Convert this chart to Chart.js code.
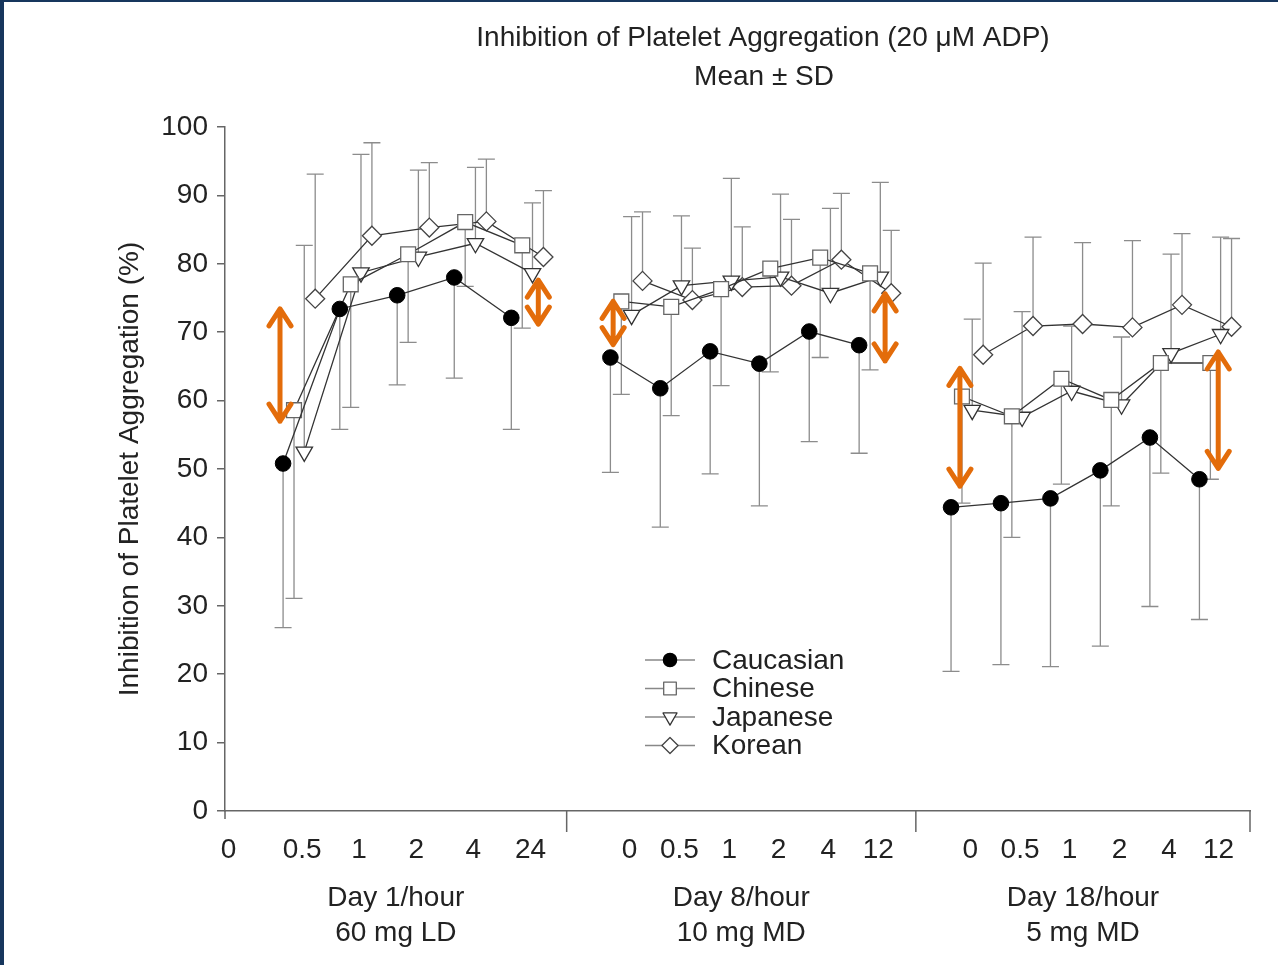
<!DOCTYPE html>
<html>
<head>
<meta charset="utf-8">
<script src="https://cdn.jsdelivr.net/npm/chart.js@4.4.1/dist/chart.umd.min.js"></script>
<style>
  body { margin: 0; background: #fff; }
  #wrap { position: relative; width: 1278px; height: 965px; }
  #frame { position: absolute; left: 0; top: 0; width: 1278px; height: 965px; box-sizing: border-box;
           border-top: 2px solid #17365d; border-left: 4px solid #17365d; pointer-events: none; }
</style>
</head>
<body>
<div id="wrap"><canvas id="myChart" width="1278" height="965"></canvas><div id="frame"></div></div>
<script>
// time slots on the x axis (axis runs 0..30, three days side by side)
const day1Hours = ['0', '0.5', '1', '2', '4', '24'];
const day8Hours = ['0', '0.5', '1', '2', '4', '12'];
const day18Hours = ['0', '0.5', '1', '2', '4', '12'];
const day1Slots = [0.10, 2.26, 3.92, 5.60, 7.27, 8.94];
const day8Slots = [11.84, 13.30, 14.76, 16.20, 17.66, 19.12];
const day18Slots = [21.81, 23.27, 24.72, 26.18, 27.63, 29.08];
const panelEdges = [0, 10, 20.22, 30];
const panelTitles = [['Day 1/hour', '60 mg LD'], ['Day 8/hour', '10 mg MD'], ['Day 18/hour', '5 mg MD']];

// mean IPA (%) : day 1 (0.5,1,2,4,24 h), day 8 (0..12 h), day 18 (0..12 h)
const caucasianMean = [50.8, 73.4, 75.4, 78.0, 72.1,  66.3, 61.8, 67.2, 65.4, 70.1, 68.1,  44.4, 45.0, 45.7, 49.8, 54.6, 48.5];
const chineseMean   = [58.6, 77.0, 81.4, 86.1, 82.7,  74.5, 73.7, 76.3, 79.3, 80.9, 78.6,  60.6, 57.7, 63.2, 60.1, 65.5, 65.5];
const japaneseMean  = [52.5, 78.7, 81.0, 83.0, 78.6,  72.5, 76.8, 77.5, 78.1, 75.7, 78.1,  58.6, 57.6, 61.4, 59.4, 66.9, 69.7];
const koreanMean    = [74.9, 84.1, 85.3, 86.2, 81.0,  77.5, 74.7, 76.6, 76.8, 80.6, 75.7,  66.7, 70.9, 71.2, 70.7, 74.0, 70.8];

// SD (only one side drawn)
const caucasianSD = [24.0, 17.6, 13.1, 14.7, 16.3,  16.8, 20.3, 17.9, 20.8, 16.1, 15.8,  24.0, 23.6, 24.6, 25.7, 24.7, 20.5];
const chineseSD   = [27.5, 18.0, 12.9, 9.4, 12.1,   13.6, 15.9, 14.1, 15.1, 14.6, 14.1,  15.6, 17.7, 15.4, 15.5, 16.1, 17.0];
const japaneseSD  = [30.2, 17.3, 12.7, 11.1, 10.3,  14.4, 10.2, 15.0, 12.1, 12.4, 13.8,  13.3, 15.4, 9.5, 9.9, 14.5, 14.2];
const koreanSD    = [18.2, 13.6, 9.5, 9.1, 9.7,     10.1, 7.6, 8.8, 9.7, 9.7, 9.2,      13.4, 13.0, 11.9, 12.7, 10.4, 12.9];

// orange difference arrows: slot position, top value, bottom value
const arrowX = [1.61, 9.17, 11.36, 19.32, 21.51, 29.07];
const arrowTop = [73.7, 77.9, 74.8, 75.9, 65.0, 67.4];
const arrowBottom = [56.7, 70.9, 67.9, 65.5, 47.2, 49.8];

const allSlots = day1Slots.concat(day8Slots, day18Slots);
const allLabels = day1Hours.concat(day8Hours, day18Hours);
const FONT = "'Liberation Sans', Arial, sans-serif";

function buildPoints(means, sds, dodge) {
  const pts = [];
  const panels = [day1Slots.slice(1), day8Slots, day18Slots];
  let k = 0;
  panels.forEach((slots, p) => {
    if (p > 0) pts.push({x: panelEdges[p], y: null});
    slots.forEach(x => {
      pts.push({x: x + dodge, y: means[k], sd: sds[k]});
      k++;
    });
  });
  return pts;
}

const errorBars = {
  id: 'errorBars',
  beforeDatasetsDraw(chart) {
    const ctx = chart.ctx, ys = chart.scales.y;
    ctx.save();
    ctx.strokeStyle = '#8c8c8c';
    ctx.lineWidth = 1.3;
    chart.data.datasets.forEach((ds, di) => {
      const meta = chart.getDatasetMeta(di);
      ds.data.forEach((d, i) => {
        if (d.y === null) return;
        const el = meta.data[i];
        const yEnd = ys.getPixelForValue(d.y + ds.sdDir * d.sd);
        ctx.beginPath();
        ctx.moveTo(el.x, el.y);
        ctx.lineTo(el.x, yEnd);
        ctx.moveTo(el.x - 8.5, yEnd);
        ctx.lineTo(el.x + 8.5, yEnd);
        ctx.stroke();
      });
    });
    ctx.restore();
  }
};

const extras = {
  id: 'extras',
  afterDraw(chart) {
    const ctx = chart.ctx, xs = chart.scales.x, ys = chart.scales.y;
    const area = chart.chartArea;
    ctx.save();
    // panel separators below the axis
    ctx.strokeStyle = '#666';
    ctx.lineWidth = 1.5;
    ctx.beginPath();
    ctx.moveTo(xs.getPixelForValue(0), area.bottom);
    ctx.lineTo(xs.getPixelForValue(0), area.bottom + 8);
    panelEdges.slice(1).forEach(v => {
      const px = xs.getPixelForValue(v);
      ctx.moveTo(px, area.bottom);
      ctx.lineTo(px, area.bottom + 21);
    });
    ctx.stroke();

    // titles
    ctx.fillStyle = '#222';
    ctx.font = '28px ' + FONT;
    ctx.textAlign = 'center';
    ctx.textBaseline = 'middle';
    ctx.fillText('Inhibition of Platelet Aggregation (20 \u03bcM ADP)', 763, 38);
    ctx.fillText('Mean \u00b1 SD', 764, 77);

    // day labels under each panel
    panelTitles.forEach((t, p) => {
      const cx = (xs.getPixelForValue(panelEdges[p]) + xs.getPixelForValue(panelEdges[p + 1])) / 2;
      ctx.fillText(t[0], cx, 898);
      ctx.fillText(t[1], cx, 933);
    });

    // orange arrows
    ctx.strokeStyle = '#e36c0a';
    ctx.lineWidth = 5;
    ctx.lineCap = 'round';
    ctx.lineJoin = 'round';
    arrowX.forEach((v, i) => {
      const px = xs.getPixelForValue(v);
      const y1 = ys.getPixelForValue(arrowTop[i]);
      const y2 = ys.getPixelForValue(arrowBottom[i]);
      ctx.beginPath();
      ctx.moveTo(px, y1 + 2);
      ctx.lineTo(px, y2 - 2);
      ctx.moveTo(px - 11, y1 + 19);
      ctx.lineTo(px, y1 + 2);
      ctx.lineTo(px + 11, y1 + 19);
      ctx.moveTo(px - 11, y2 - 19);
      ctx.lineTo(px, y2 - 2);
      ctx.lineTo(px + 11, y2 - 19);
      ctx.stroke();
    });

    // legend
    ctx.lineCap = 'butt';
    ctx.textAlign = 'left';
    chart.data.datasets.forEach((ds, i) => {
      const y = 660 + i * 28.5;
      ctx.strokeStyle = '#888';
      ctx.lineWidth = 1.3;
      ctx.beginPath();
      ctx.moveTo(645, y);
      ctx.lineTo(695, y);
      ctx.stroke();
      ctx.fillStyle = ds.pointBackgroundColor;
      ctx.strokeStyle = ds.pointBorderColor;
      Chart.helpers.drawPoint(ctx, {
        pointStyle: ds.pointStyle, radius: ds.pointRadius * 0.85,
        rotation: ds.pointRotation || 0, borderWidth: ds.pointBorderWidth
      }, 670, y);
      ctx.fillStyle = '#222';
      ctx.fillText(ds.label, 712, y + 1);
    });
    ctx.restore();
  }
};

Chart.defaults.font.family = FONT;
Chart.defaults.font.size = 28;
Chart.defaults.color = '#222';

const ctx = document.getElementById('myChart').getContext('2d');
const myChart = new Chart(ctx, {
  type: 'line',
  data: {
    datasets: [{
      label: 'Caucasian',
      data: buildPoints(caucasianMean, caucasianSD, -0.56),
      sdDir: -1,
      borderColor: '#333', borderWidth: 1.3,
      pointStyle: 'circle', pointRadius: 7.8,
      pointBackgroundColor: '#000', pointBorderColor: '#000', pointBorderWidth: 1
    }, {
      label: 'Chinese',
      data: buildPoints(chineseMean, chineseSD, -0.24),
      sdDir: -1,
      borderColor: '#333', borderWidth: 1.3,
      pointStyle: 'rect', pointRadius: 10.5,
      pointBackgroundColor: '#fff', pointBorderColor: '#666', pointBorderWidth: 1.3
    }, {
      label: 'Japanese',
      data: buildPoints(japaneseMean, japaneseSD, 0.06),
      sdDir: 1,
      borderColor: '#333', borderWidth: 1.3,
      pointStyle: 'triangle', pointRotation: 180, pointRadius: 9.5,
      pointBackgroundColor: '#fff', pointBorderColor: '#333', pointBorderWidth: 1.3
    }, {
      label: 'Korean',
      data: buildPoints(koreanMean, koreanSD, 0.38),
      sdDir: 1,
      borderColor: '#333', borderWidth: 1.3,
      pointStyle: 'rectRot', pointRadius: 9.5,
      pointBackgroundColor: '#fff', pointBorderColor: '#444', pointBorderWidth: 1.3
    }]
  },
  options: {
    responsive: false,
    animation: false,
    devicePixelRatio: 1,
    spanGaps: false,
    layout: {padding: {left: 105, top: 127, right: 28, bottom: 0}},
    plugins: {legend: {display: false}, tooltip: {enabled: false}},
    scales: {
      x: {
        type: 'linear', min: 0, max: 30,
        afterBuildTicks: s => { s.ticks = allSlots.map(v => ({value: v})); },
        afterFit: s => { s.height = 154; },
        ticks: {autoSkip: false, maxRotation: 0, padding: 22, callback: (v, i) => allLabels[i]},
        grid: {display: false, drawTicks: false},
        border: {color: '#666', width: 1.5}
      },
      y: {
        min: 0, max: 100,
        afterFit: s => { s.width = 120; },
        ticks: {stepSize: 10, padding: 9},
        grid: {drawOnChartArea: false, tickLength: 8, color: '#666', lineWidth: 1.5},
        border: {color: '#666', width: 1.5},
        title: {display: true, text: 'Inhibition of Platelet Aggregation (%)', padding: {top: 8, bottom: 0}}
      }
    }
  },
  plugins: [errorBars, extras]
});
</script>
</body>
</html>
